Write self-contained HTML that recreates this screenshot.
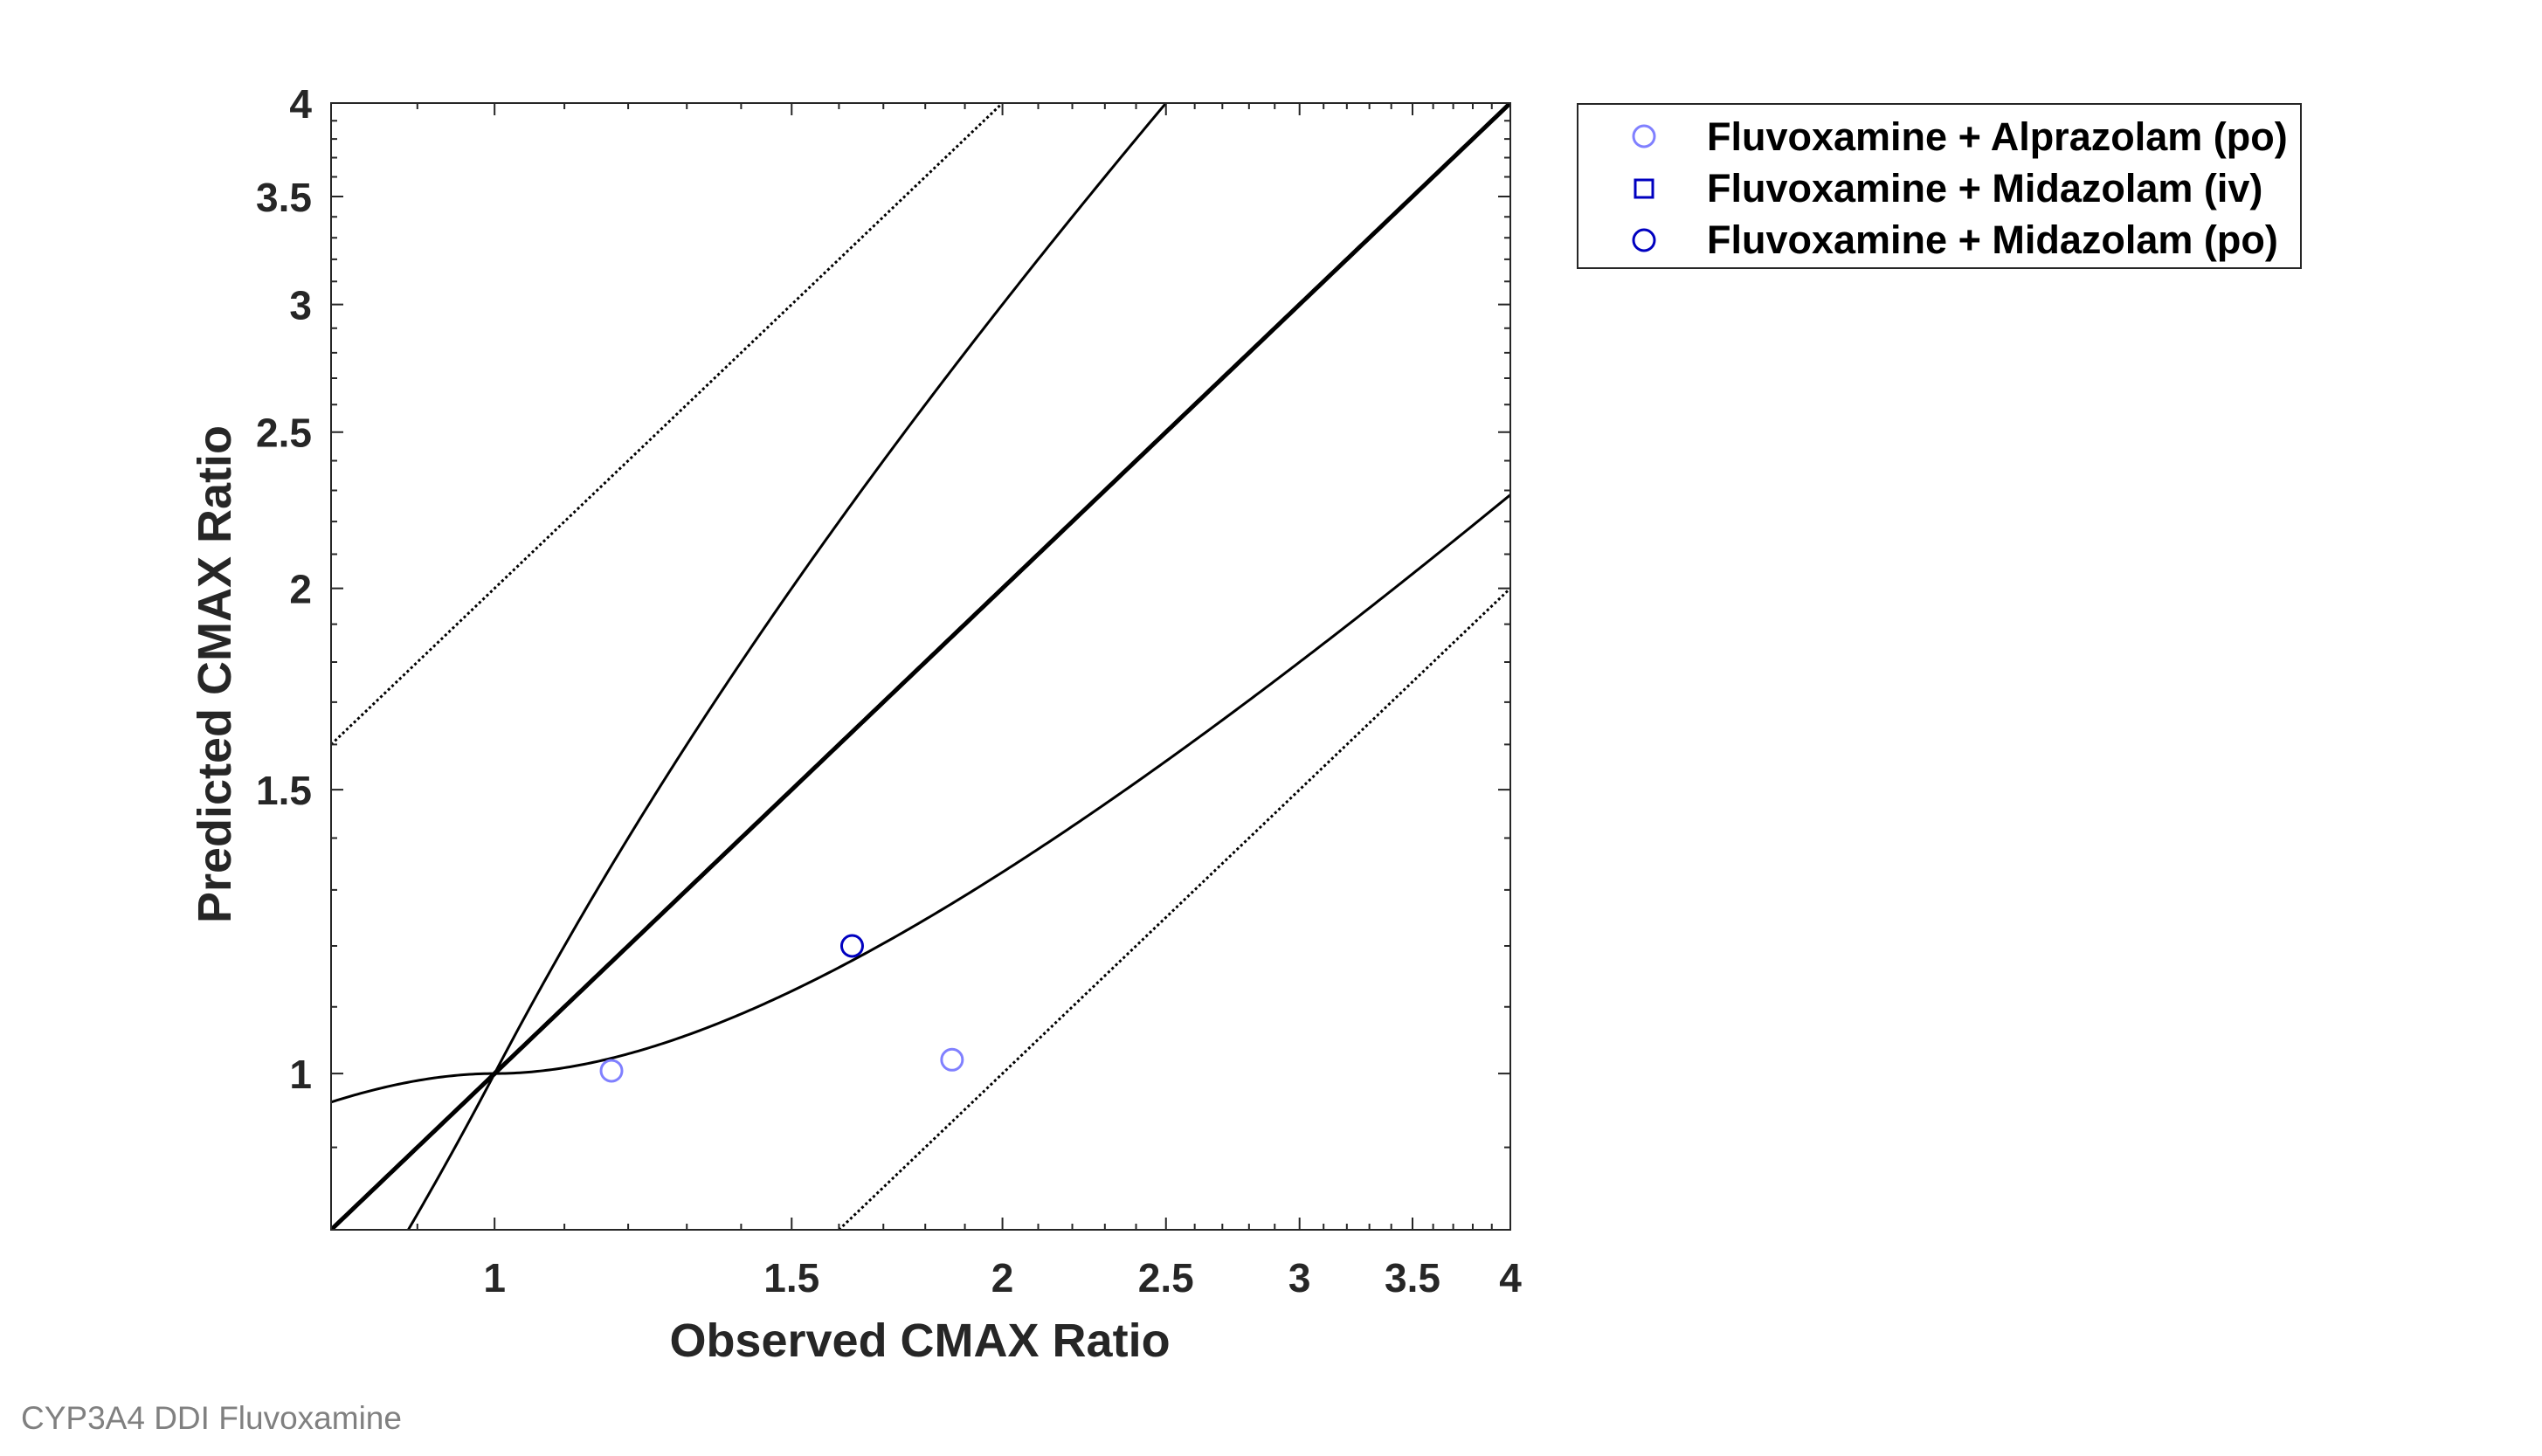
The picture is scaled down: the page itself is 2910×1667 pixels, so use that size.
<!DOCTYPE html>
<html><head><meta charset="utf-8"><style>
html,body{margin:0;padding:0;background:#fff;overflow:hidden;width:2910px;height:1667px;}
svg{display:block;font-family:"Liberation Sans",Arial,sans-serif;}
</style></head><body>
<svg id="chart" width="2910" height="1667" viewBox="0 0 2910 1667" xmlns="http://www.w3.org/2000/svg">
<rect width="2910" height="1667" fill="#fff"/>
<g id="lines"></g>
<g id="marks"></g>
<g id="axes"></g>
<text x="1053" y="1553" text-anchor="middle" font-size="54" font-weight="bold" fill="#262626">Observed CMAX Ratio</text>
<text transform="translate(264,772) rotate(-90)" text-anchor="middle" font-size="54" font-weight="bold" fill="#262626">Predicted CMAX Ratio</text>
<g>
<rect x="1806" y="119" width="828" height="188" fill="#fff" stroke="#262626" stroke-width="2"/>
<circle cx="1882" cy="156" r="12" fill="none" stroke="#8080ff" stroke-width="3"/>
<text x="1954" y="172" font-size="45" font-weight="bold" fill="#000">Fluvoxamine + Alprazolam (po)</text>
<rect x="1872" y="206" width="20" height="20" fill="none" stroke="#0000c0" stroke-width="3"/>
<text x="1954" y="231" font-size="45" font-weight="bold" fill="#000">Fluvoxamine + Midazolam (iv)</text>
<circle cx="1882" cy="275" r="12" fill="none" stroke="#0000c0" stroke-width="3"/>
<text x="1954" y="290" font-size="45" font-weight="bold" fill="#000">Fluvoxamine + Midazolam (po)</text>
</g>
<text x="24" y="1636" font-size="37" fill="#808080">CYP3A4 DDI Fluvoxamine</text>
</svg>
<script>
const alprazolamPoObs = [1.173, 1.867];
const alprazolamPoPred = [1.004, 1.02];
const midazolamPoObs = [1.629];
const midazolamPoPred = [1.2];
const midazolamIvObs = [];
const midazolamIvPred = [];
const majorTicks = [1, 1.5, 2, 2.5, 3, 3.5, 4];
const majorLabels = ["1", "1.5", "2", "2.5", "3", "3.5", "4"];
const axisMin = 0.8, axisMax = 4;

const L = 379, R = 1729, T = 118, B = 1408;
const lmin = Math.log10(axisMin), lmax = Math.log10(axisMax);
function sx(v){ return L + (Math.log10(v) - lmin) / (lmax - lmin) * (R - L); }
function sy(v){ return B - (Math.log10(v) - lmin) / (lmax - lmin) * (B - T); }
const NS = "http://www.w3.org/2000/svg";
function mk(tag, attrs, parent){ const e = document.createElementNS(NS, tag); for (const k in attrs) e.setAttribute(k, attrs[k]); parent.appendChild(e); return e; }

const svg = document.getElementById('chart');
const defs = mk('defs', {}, svg);
const cp = mk('clipPath', {id:'plotclip'}, defs);
mk('rect', {x:L, y:T, width:R-L, height:B-T}, cp);
const lines = document.getElementById('lines');
lines.setAttribute('clip-path', 'url(#plotclip)');

function guestLimit(r){ const rr = r >= 1 ? r : 1/r; return (1 + 2*(rr - 1)) / rr; }
function curve(fn){ let d = ''; const n = 400; for (let i = 0; i <= n; i++){ const v = Math.pow(10, lmin + (lmax - lmin) * i / n); const y = fn(v); d += (i ? 'L' : 'M') + sx(v).toFixed(2) + ',' + sy(y).toFixed(2); } return d; }

let p;
p = mk('path', {d: curve(v => v), fill:'none', stroke:'#000', 'stroke-width':5}, lines);


p = mk('path', {d: curve(v => v * guestLimit(v)), fill:'none', stroke:'#000', 'stroke-width':3}, lines);


p = mk('path', {d: curve(v => v / guestLimit(v)), fill:'none', stroke:'#000', 'stroke-width':3}, lines);


p = mk('path', {d: curve(v => 2 * v), fill:'none', stroke:'#000', 'stroke-width':3, 'stroke-dasharray':'3 3'}, lines);


p = mk('path', {d: curve(v => v / 2), fill:'none', stroke:'#000', 'stroke-width':3, 'stroke-dasharray':'3 3'}, lines);



const marks = document.getElementById('marks');
alprazolamPoObs.forEach((x, i) => {
  const c = mk('circle', {cx:sx(x), cy:sy(alprazolamPoPred[i]), r:12, fill:'none', stroke:'#8080ff', 'stroke-width':3}, marks);
  
  
});
midazolamIvObs.forEach((x, i) => {
  const c = mk('rect', {x:sx(x)-10, y:sy(midazolamIvPred[i])-10, width:20, height:20, fill:'none', stroke:'#0000c0', 'stroke-width':3}, marks);
  
  
});
midazolamPoObs.forEach((x, i) => {
  const c = mk('circle', {cx:sx(x), cy:sy(midazolamPoPred[i]), r:12, fill:'none', stroke:'#0000c0', 'stroke-width':3}, marks);
  
  
});

const axes = document.getElementById('axes');
const box = mk('rect', {x:L, y:T, width:R-L, height:B-T, fill:'none', stroke:'#262626', 'stroke-width':2}, axes);


const minors = [];
for (let v = 0.9; v < 4.001; v += 0.1){ const r = Math.round(v*10)/10; if (!majorTicks.includes(r)) minors.push(r); }
let td = '';
minors.forEach(v => { const x = sx(v), y = sy(v);
  td += `M${x},${B}V${B-7}M${x},${T}V${T+7}M${L},${y}H${L+7}M${R},${y}H${R-7}`; });
majorTicks.forEach(v => { const x = sx(v), y = sy(v);
  td += `M${x},${B}V${B-14}M${x},${T}V${T+14}M${L},${y}H${L+14}M${R},${y}H${R-14}`; });
const ticks = mk('path', {d:td, stroke:'#262626', 'stroke-width':2, fill:'none'}, axes);


majorTicks.forEach((v, i) => {
  const tx = mk('text', {x:sx(v), y:1479, 'text-anchor':'middle', 'font-size':46, 'font-weight':'bold', fill:'#262626'}, axes);
  tx.textContent = majorLabels[i];
  
  
  const ty = mk('text', {x:357, y:sy(v)+17, 'text-anchor':'end', 'font-size':46, 'font-weight':'bold', fill:'#262626'}, axes);
  ty.textContent = majorLabels[i];
  
  
});
</script>
</body></html>
